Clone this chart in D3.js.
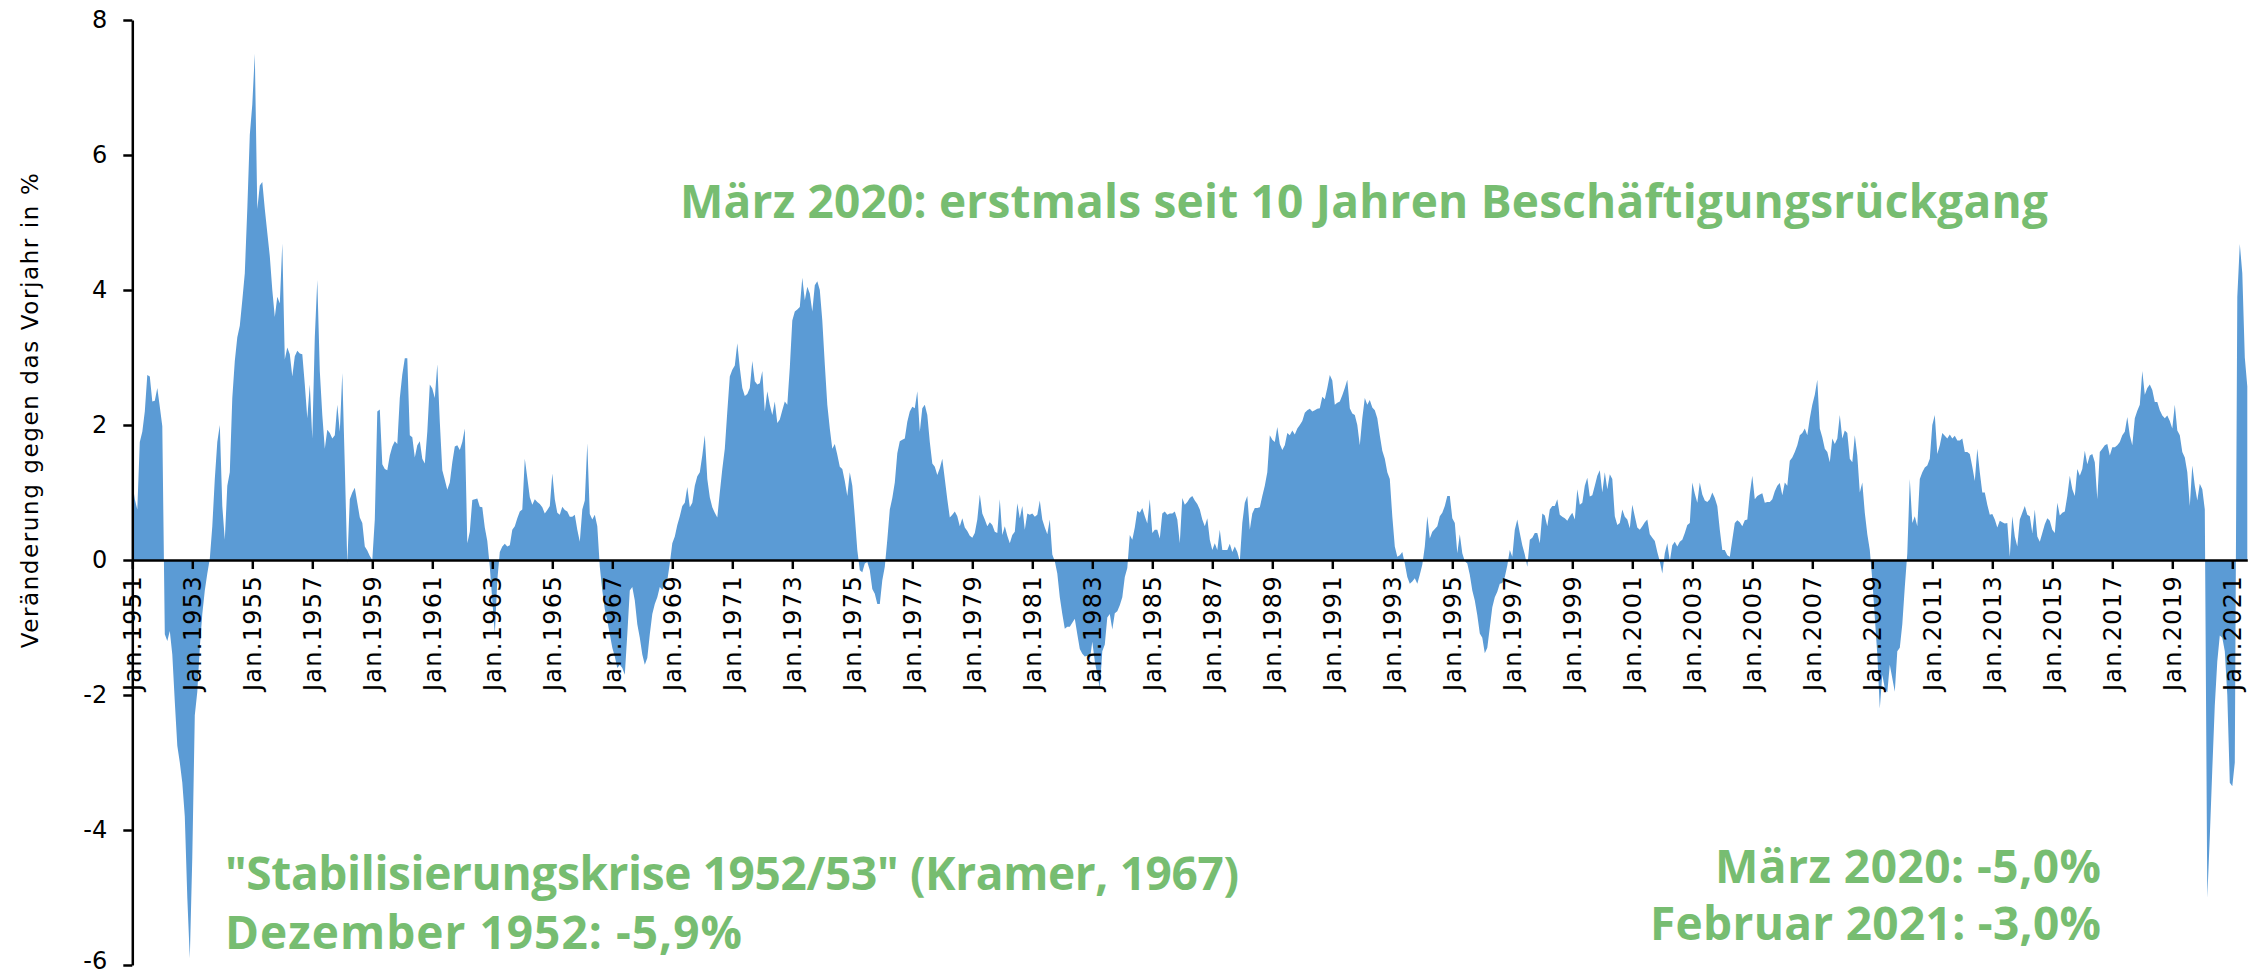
<!DOCTYPE html>
<html>
<head>
<meta charset="utf-8">
<script src="https://cdn.jsdelivr.net/npm/d3@7"></script>
<style>
  body { margin: 0; background: #fff; }
  svg { display: block; }
</style>
</head>
<body>
<div id="chart"></div>
<script>
// Veränderung gegen das Vorjahr in %, monatlich, Jan. 1951 bis Jul. 2021
var values1951to1960 = [
    1.15, 0.9, 0.75, 1.75, 1.9, 2.2, 2.74, 2.72, 2.35, 2.36, 2.55, 2.27,
    1.98, -1.1, -1.2, -1.05, -1.4, -2.1, -2.75, -3.0, -3.3, -3.8, -5.0, -5.9,
    -4.4, -2.3, -1.95, -1.3, -0.8, -0.45, -0.2, 0.02, 0.5, 1.2, 1.75, 2.0,
    0.8, 0.3, 1.1, 1.3, 2.4, 2.95, 3.3, 3.47, 3.85, 4.25, 5.2, 6.3,
    6.75, 7.5, 5.2, 5.55, 5.6, 5.2, 4.85, 4.5, 4.0, 3.6, 3.9, 3.8,
    4.69, 2.97, 3.15, 3.05, 2.72, 3.02, 3.1, 3.06, 3.05, 2.6, 2.1, 2.6,
    1.8, 3.3, 4.15, 2.8, 2.15, 1.65, 1.93, 1.88, 1.8, 1.85, 2.3, 1.9,
    2.77, 1.4, -0.05, 0.9, 1.0, 1.07, 0.85, 0.63, 0.55, 0.2, 0.14, 0.06,
    0.0, 0.6, 2.2, 2.23, 1.42, 1.35, 1.33, 1.55, 1.68, 1.76, 1.72, 2.4,
    2.75, 2.99, 2.99, 1.85, 1.82, 1.52, 1.7, 1.76, 1.5, 1.43, 1.9, 2.6
];
var values1961to1970 = [
    2.54, 2.4, 2.9, 2.05, 1.33, 1.19, 1.04, 1.15, 1.45, 1.68, 1.7, 1.63,
    1.75, 1.95, 0.25, 0.42, 0.89, 0.9, 0.91, 0.79, 0.78, 0.48, 0.28, -0.1,
    -0.6, -1.1, -0.3, 0.12, 0.2, 0.24, 0.2, 0.22, 0.45, 0.5, 0.62, 0.72,
    0.75, 1.5, 1.22, 0.93, 0.82, 0.9, 0.86, 0.83, 0.78, 0.69, 0.74, 0.8,
    1.28, 0.9, 0.7, 0.67, 0.79, 0.74, 0.72, 0.64, 0.64, 0.67, 0.45, 0.27,
    0.75, 0.88, 1.73, 0.68, 0.6, 0.67, 0.5, -0.1, -0.45, -0.73, -0.9, -1.1,
    -1.3, -1.43, -1.6, -1.55, -1.6, -1.7, -1.1, -0.45, -0.4, -0.6, -0.95, -1.15,
    -1.4, -1.55, -1.45, -1.1, -0.8, -0.65, -0.55, -0.4, -0.44, -0.38, -0.3, -0.05,
    0.25, 0.35, 0.52, 0.65, 0.8, 0.85, 1.08, 0.78, 0.85, 1.1, 1.24, 1.3,
    1.55, 1.85, 1.2, 0.93, 0.78, 0.7, 0.63, 1.0, 1.35, 1.65, 2.2, 2.72
];
var values1971to1980 = [
    2.82, 2.88, 3.21, 2.85, 2.55, 2.43, 2.46, 2.55, 2.95, 2.65, 2.6, 2.62,
    2.8, 2.2, 2.5, 2.3, 2.15, 2.35, 2.03, 2.08, 2.22, 2.35, 2.3, 2.85,
    3.55, 3.68, 3.71, 3.75, 4.18, 3.85, 4.05, 3.95, 3.68, 4.07, 4.13, 4.0,
    3.55, 2.9, 2.3, 1.95, 1.65, 1.72, 1.56, 1.38, 1.35, 1.17, 0.95, 1.3,
    1.1, 0.65, 0.15, -0.15, -0.18, -0.05, -0.03, -0.15, -0.43, -0.5, -0.65, -0.65,
    -0.3, -0.1, 0.3, 0.75, 0.92, 1.15, 1.58, 1.76, 1.78, 1.8, 2.05, 2.2,
    2.27, 2.25, 2.5, 1.9, 2.25, 2.3, 2.15, 1.75, 1.43, 1.38, 1.26, 1.36,
    1.5, 1.2, 0.9, 0.63, 0.67, 0.72, 0.65, 0.5, 0.62, 0.48, 0.43, 0.36,
    0.33, 0.4, 0.6, 0.97, 0.69, 0.6, 0.5, 0.56, 0.52, 0.42, 0.4, 0.9,
    0.37, 0.5, 0.36, 0.25, 0.37, 0.42, 0.84, 0.62, 0.8, 0.45, 0.69, 0.67
];
var values1981to1990 = [
    0.69, 0.64, 0.67, 0.88, 0.6, 0.48, 0.38, 0.6, 0.08, -0.02, -0.2, -0.55,
    -0.8, -1.02, -0.99, -0.99, -0.93, -0.87, -1.1, -1.32, -1.39, -1.43, -1.42, -1.48,
    -1.21, -1.5, -1.7, -1.9, -1.35, -1.25, -0.85, -0.8, -1.03, -0.79, -0.76, -0.67,
    -0.55, -0.25, -0.12, 0.37, 0.3, 0.48, 0.73, 0.7, 0.77, 0.65, 0.54, 0.9,
    0.4, 0.45, 0.45, 0.32, 0.69, 0.72, 0.67, 0.69, 0.69, 0.72, 0.6, 0.25,
    0.92, 0.82, 0.86, 0.92, 0.95, 0.88, 0.83, 0.75, 0.6, 0.5, 0.62, 0.3,
    0.15, 0.25, 0.15, 0.45, 0.15, 0.15, 0.15, 0.24, 0.12, 0.2, 0.12, -0.02,
    0.55, 0.85, 0.95, 0.45, 0.69, 0.77, 0.77, 0.78, 0.95, 1.1, 1.3, 1.85,
    1.78, 1.75, 1.97, 1.72, 1.63, 1.7, 1.88, 1.85, 1.92, 1.86, 1.95, 2.0,
    2.06, 2.18, 2.22, 2.24, 2.2, 2.22, 2.24, 2.25, 2.42, 2.38, 2.55, 2.74
];
var values1991to2000 = [
    2.66, 2.3, 2.33, 2.35, 2.44, 2.55, 2.67, 2.25, 2.17, 2.15, 2.0, 1.7,
    2.1, 2.4, 2.3, 2.37, 2.26, 2.22, 2.1, 1.85, 1.62, 1.5, 1.3, 1.2,
    0.65, 0.2, 0.05, 0.07, 0.12, -0.05, -0.25, -0.35, -0.32, -0.27, -0.35, -0.22,
    -0.07, 0.2, 0.65, 0.32, 0.42, 0.46, 0.5, 0.65, 0.7, 0.8, 0.95, 0.95,
    0.62, 0.55, 0.1, 0.38, 0.1, -0.02, -0.05, -0.22, -0.45, -0.6, -0.82, -1.09,
    -1.15, -1.38, -1.3, -1.0, -0.7, -0.55, -0.47, -0.35, -0.34, -0.25, -0.08, 0.15,
    0.05, 0.45, 0.6, 0.4, 0.22, 0.08, -0.1, 0.3, 0.33, 0.4, 0.4, 0.25,
    0.69, 0.66, 0.5, 0.75, 0.8, 0.8, 0.9, 0.67, 0.64, 0.62, 0.58, 0.65,
    0.7, 0.6, 1.05, 0.82, 0.85, 1.1, 1.22, 0.94, 0.96, 1.1, 1.25, 1.33,
    1.0, 1.3, 1.05, 1.27, 1.2, 0.65, 0.52, 0.55, 0.75, 0.64, 0.6, 0.47
];
var values2001to2010 = [
    0.82, 0.65, 0.48, 0.45, 0.5, 0.56, 0.6, 0.38, 0.33, 0.28, 0.12, -0.02,
    -0.2, 0.1, 0.25, -0.02, 0.22, 0.27, 0.2, 0.27, 0.3, 0.4, 0.52, 0.55,
    1.15, 0.98, 0.85, 1.15, 0.97, 0.88, 0.86, 0.9, 1.0, 0.92, 0.8, 0.45,
    0.15, 0.15, 0.07, 0.05, 0.3, 0.55, 0.59, 0.56, 0.5, 0.59, 0.6, 0.98,
    1.25, 0.9, 0.95, 0.97, 0.99, 0.85, 0.86, 0.86, 0.9, 1.02, 1.1, 1.14,
    0.96, 1.15, 1.1, 1.47, 1.52, 1.6, 1.7, 1.85, 1.88, 1.95, 1.85, 2.1,
    2.3, 2.45, 2.67, 1.95, 1.82, 1.65, 1.6, 1.45, 1.8, 1.72, 1.8, 2.15,
    1.8, 1.92, 1.88, 1.5, 1.45, 1.85, 1.55, 1.0, 1.15, 0.7, 0.38, 0.15,
    -0.3, -0.85, -1.4, -2.2, -1.7, -1.9, -1.96, -1.55, -1.75, -1.95, -1.35, -1.3,
    -0.95, -0.4, 0.1, 1.2, 0.55, 0.65, 0.5, 1.2, 1.3, 1.37, 1.4, 1.5
];
var values2011to2021 = [
    2.0, 2.15, 1.57, 1.7, 1.88, 1.84, 1.8, 1.86, 1.8, 1.84, 1.77, 1.77,
    1.8, 1.6, 1.6, 1.57, 1.38, 1.17, 1.65, 1.3, 1.0, 1.0, 0.82, 0.67,
    0.68, 0.6, 0.48, 0.58, 0.56, 0.54, 0.55, 0.05, 0.65, 0.35, 0.2, 0.6,
    0.7, 0.8, 0.67, 0.65, 0.4, 0.75, 0.35, 0.27, 0.4, 0.53, 0.62, 0.58,
    0.45, 0.4, 0.85, 0.66, 0.7, 0.72, 0.95, 1.25, 1.05, 0.95, 1.35, 1.25,
    1.35, 1.62, 1.42, 1.55, 1.57, 1.45, 0.9, 1.6, 1.65, 1.7, 1.72, 1.55,
    1.67, 1.67, 1.7, 1.75, 1.85, 1.9, 2.12, 1.85, 1.7, 2.1, 2.21, 2.3,
    2.8, 2.45, 2.55, 2.6, 2.52, 2.34, 2.34, 2.22, 2.14, 2.1, 2.14, 2.06,
    1.95, 2.3, 1.92, 1.85, 1.6, 1.52, 1.3, 0.8, 1.4, 1.1, 0.88, 1.13,
    1.05, 0.75, -5.0, -4.1, -3.1, -2.15, -1.5, -1.12, -1.15, -1.35, -2.0, -3.3,
    -3.35, -3.0, 3.9, 4.68, 4.25, 3.0, 2.57
];

var startYear = 1951;
var monthNames = ["Jan", "Feb", "Mrz", "Apr", "Mai", "Jun", "Jul", "Aug", "Sep", "Okt", "Nov", "Dez"];
var yTicks = [-6, -4, -2, 0, 2, 4, 6, 8];
var yLabel = "Veränderung gegen das Vorjahr in %";
var title = "März 2020: erstmals seit 10 Jahren Beschäftigungsrückgang";
var noteLeft = ["\"Stabilisierungskrise 1952/53\" (Kramer, 1967)", "Dezember 1952: -5,9%"];
var noteRight = ["März 2020: -5,0%", "Februar 2021: -3,0%"];

var values = [].concat(values1951to1960, values1961to1970, values1971to1980,
    values1981to1990, values1991to2000, values2001to2010, values2011to2021);

var months = values.map(function(d, i){
    return monthNames[i % 12] + "." + (startYear + Math.floor(i / 12));
});

var w = 2260;
var h = 976;
var green = "#77BD71";
var axisFont = "'DejaVu Sans', sans-serif";
var noteFont = "'Open Sans', sans-serif";

var svg = d3.select("#chart")
    .append("svg")
        .attr("width", w)
        .attr("height", h);

svg.append("rect").attr("width", w).attr("height", h).attr("fill", "#fff");

var x = d3.scaleLinear()
    .domain([0, values.length - 1])
    .range([132.3, 2247.3]);

var y = d3.scaleLinear()
    .domain([-6, 8])
    .range([965, 20]);

var area = d3.area()
    .x(function(d, i){ return x(i); })
    .y0(y(0))
    .y1(function(d){ return y(d); });

svg.append("path")
    .datum(values)
    .attr("d", area)
    .attr("fill", "#5B9BD5");

// x axis (categories, a label every second January)
var xAxis = svg.append("g")
    .attr("transform", "translate(0," + y(0) + ")")
    .call(d3.axisBottom(x)
        .tickValues(d3.range(0, values.length, 24))
        .tickSize(9)
        .tickSizeOuter(0)
        .tickFormat(function(i){ return months[i]; }));

xAxis.selectAll("path, line").attr("stroke", "#000").attr("stroke-width", 2.5);
xAxis.selectAll("text")
    .attr("transform", "rotate(-90)")
    .attr("text-anchor", "end")
    .attr("x", -15)
    .attr("y", 0)
    .attr("dy", "0.36em")
    .attr("font-family", axisFont)
    .attr("font-size", 24)
    .attr("letter-spacing", 1.3)
    .attr("fill", "#000");

// y axis
var yAxis = svg.append("g")
    .attr("transform", "translate(132.3,0)")
    .call(d3.axisLeft(y)
        .tickValues(yTicks)
        .tickSize(9)
        .tickSizeOuter(0)
        .tickPadding(16)
        .tickFormat(function(d){ return String(d); }));

yAxis.selectAll("path, line").attr("stroke", "#000").attr("stroke-width", 2.5);
yAxis.selectAll("text")
    .attr("font-family", axisFont)
    .attr("font-size", 24)
    .attr("fill", "#000")
    .attr("dy", function(d){ return d === -6 ? "0.15em" : "0.32em"; });

svg.append("text")
    .attr("transform", "translate(30,410) rotate(-90)")
    .attr("text-anchor", "middle")
    .attr("dy", "0.35em")
    .attr("font-family", axisFont)
    .attr("font-size", 23)
    .attr("letter-spacing", 1.6)
    .attr("fill", "#000")
    .text(yLabel);

// annotations
function note(txt, xPos, yPos, len, anchor){
    svg.append("text")
        .attr("x", xPos)
        .attr("y", yPos)
        .attr("text-anchor", anchor)
        .attr("font-family", noteFont)
        .attr("font-weight", 700)
        .attr("font-size", 46)
        .attr("textLength", len)
        .attr("lengthAdjust", "spacing")
        .attr("fill", green)
        .text(txt);
}

note(title, 680, 218, 1368, "start");
note(noteLeft[0], 225, 890, 1014, "start");
note(noteLeft[1], 225, 949, 517, "start");
note(noteRight[0], 2101, 883, 386, "end");
note(noteRight[1], 2101, 940, 451, "end");
</script>
</body>
</html>
